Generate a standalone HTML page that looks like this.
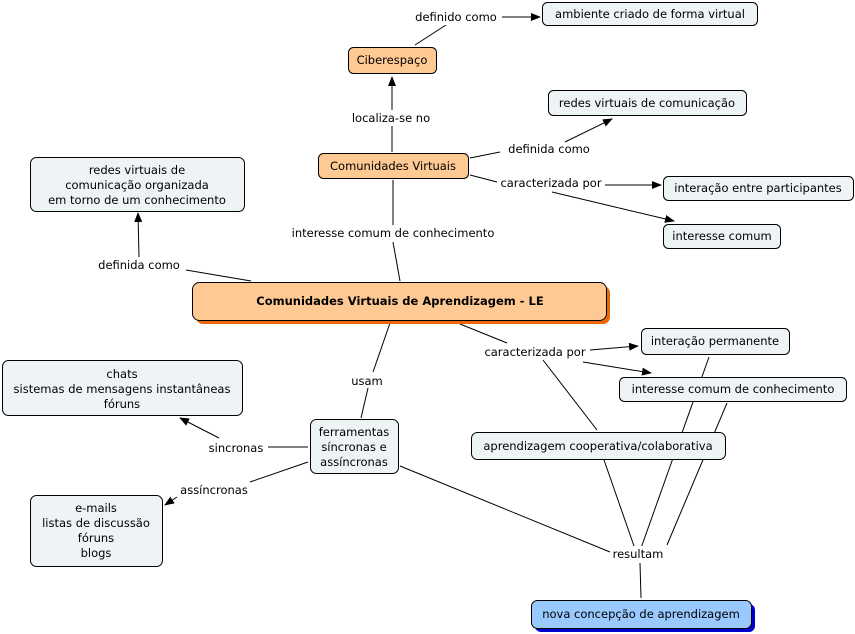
<!DOCTYPE html>
<html><head><meta charset="utf-8"><style>
html,body{margin:0;padding:0;background:#fff;}
svg{display:block;font-family:"DejaVu Sans","Liberation Sans",sans-serif;}
text{font-size:11.5px;fill:#000;}
</style></head><body>
<svg width="855" height="634" viewBox="0 0 855 634" xmlns="http://www.w3.org/2000/svg">
<defs>
<marker id="a" markerWidth="10" markerHeight="8" refX="9" refY="4" orient="auto" markerUnits="userSpaceOnUse"><path d="M0,0 L10,4 L0,8 Z" fill="#000"/></marker>
</defs>
<g stroke="#000" stroke-width="1" fill="none">
<line x1="415" y1="45" x2="446" y2="25"/>
<line x1="500" y1="17" x2="540" y2="17" marker-end="url(#a)"/>
<line x1="392" y1="152" x2="392" y2="126"/>
<line x1="392" y1="110" x2="392" y2="77" marker-end="url(#a)"/>
<line x1="470" y1="158" x2="500" y2="152"/>
<line x1="565" y1="142" x2="612" y2="119" marker-end="url(#a)"/>
<line x1="470" y1="175" x2="497" y2="182"/>
<line x1="605" y1="185" x2="661" y2="185" marker-end="url(#a)"/>
<line x1="552" y1="192" x2="674" y2="221" marker-end="url(#a)"/>
<line x1="393" y1="180" x2="393" y2="225"/>
<line x1="393" y1="242" x2="400" y2="281"/>
<line x1="251" y1="281" x2="186" y2="270"/>
<line x1="139" y1="257" x2="138" y2="213" marker-end="url(#a)"/>
<line x1="390" y1="323" x2="373" y2="372"/>
<line x1="368" y1="388" x2="361" y2="418"/>
<line x1="460" y1="324" x2="507" y2="343"/>
<line x1="590" y1="350" x2="638" y2="346" marker-end="url(#a)"/>
<line x1="583" y1="362" x2="651" y2="373" marker-end="url(#a)"/>
<line x1="543" y1="360" x2="597" y2="430"/>
<line x1="709" y1="357" x2="641" y2="548"/>
<line x1="727" y1="403" x2="667" y2="545"/>
<line x1="604" y1="460" x2="634" y2="546"/>
<line x1="400" y1="466" x2="610" y2="552"/>
<line x1="640" y1="563" x2="641" y2="598"/>
<line x1="308" y1="447" x2="268" y2="447"/>
<line x1="219" y1="438" x2="180" y2="418" marker-end="url(#a)"/>
<line x1="308" y1="462" x2="250" y2="482"/>
<line x1="177" y1="497" x2="165" y2="505" marker-end="url(#a)"/>
</g>
<!-- label backgrounds & text -->
<g text-anchor="middle">
<rect x="410" y="9" width="92" height="16" fill="#fff"/><text x="456" y="21">definido como</text>
<rect x="346" y="110" width="90" height="16" fill="#fff"/><text x="391" y="122">localiza-se no</text>
<text x="549" y="153">definida como</text>
<text x="551" y="187">caracterizada por</text>
<rect x="286" y="225" width="214" height="17" fill="#fff"/><text x="393" y="237">interesse comum de conhecimento</text>
<text x="139" y="269">definida como</text>
<text x="367" y="385">usam</text>
<text x="535" y="356">caracterizada por</text>
<text x="236" y="452">sincronas</text>
<text x="214" y="494">assíncronas</text>
<rect x="610" y="546" width="58" height="16" fill="#fff"/><text x="638" y="558">resultam</text>
</g>
<!-- nodes -->
<g stroke="#000" stroke-width="1">
<rect x="542.5" y="2.5" width="215" height="23" rx="5" fill="#eef3f5"/>
<rect x="348.5" y="47.5" width="88" height="26" rx="5" fill="#ffc993"/>
<rect x="548.5" y="90.5" width="198" height="25" rx="5" fill="#eef3f5"/>
<rect x="318.5" y="153.5" width="150" height="25" rx="5" fill="#ffc993"/>
<rect x="663.5" y="176.5" width="190" height="24" rx="5" fill="#eef3f5"/>
<rect x="663.5" y="224.5" width="117" height="24" rx="5" fill="#eef3f5"/>
<rect x="30.5" y="157.5" width="214" height="54" rx="6" fill="#eef3f5"/>
<rect x="196" y="286" width="414" height="38" rx="7" fill="#e8680c" stroke="none"/>
<rect x="192.5" y="282.5" width="414" height="38" rx="7" fill="#ffc993"/>
<rect x="641.5" y="328.5" width="148" height="26" rx="5" fill="#eef3f5"/>
<rect x="619.5" y="377.5" width="227" height="24" rx="5" fill="#eef3f5"/>
<rect x="2.5" y="360.5" width="240" height="55" rx="6" fill="#eef3f5"/>
<rect x="310.5" y="419.5" width="88" height="54" rx="6" fill="#eef3f5"/>
<rect x="471.5" y="432.5" width="254" height="27" rx="6" fill="#eef3f5"/>
<rect x="30.5" y="495.5" width="132" height="71" rx="6" fill="#eef3f5"/>
<rect x="535" y="604" width="220" height="28" rx="6" fill="#0000cc" stroke="none"/>
<rect x="531.5" y="600.5" width="220" height="28" rx="6" fill="#99c9ff"/>
</g>
<g text-anchor="middle">
<text x="650" y="18">ambiente criado de forma virtual</text>
<text x="392" y="64">Ciberespaço</text>
<text x="647" y="107">redes virtuais de comunicação</text>
<text x="393" y="170">Comunidades Virtuais</text>
<text x="758" y="192">interação entre participantes</text>
<text x="722" y="240">interesse comum</text>
<text x="137" y="174">redes virtuais de</text>
<text x="137" y="189">comunicação  organizada</text>
<text x="137" y="204">em torno de um conhecimento</text>
<text x="400" y="305" font-size="15.5" font-weight="bold">Comunidades Virtuais de Aprendizagem - LE</text>
<text x="715" y="345">interação permanente</text>
<text x="733" y="393">interesse comum de conhecimento</text>
<text x="122" y="378">chats</text>
<text x="122" y="393">sistemas de mensagens instantâneas</text>
<text x="122" y="408">fóruns</text>
<text x="354" y="436">ferramentas</text>
<text x="354" y="451">síncronas e</text>
<text x="354" y="466">assíncronas</text>
<text x="598" y="450">aprendizagem cooperativa/colaborativa</text>
<text x="96" y="512">e-mails</text>
<text x="96" y="527">listas de discussão</text>
<text x="96" y="542">fóruns</text>
<text x="96" y="557">blogs</text>
<text x="641" y="618">nova concepção de aprendizagem</text>
</g>
</svg>
</body></html>
